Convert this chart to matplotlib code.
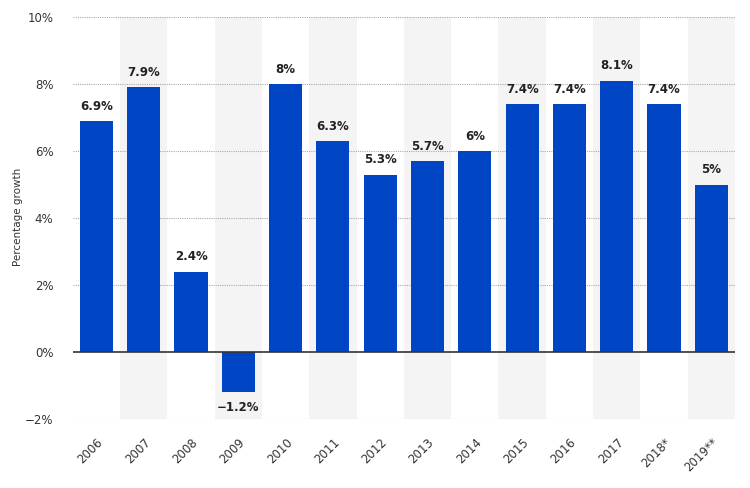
import numpy as np
import matplotlib.pyplot as plt

years = ["2006", "2007", "2008", "2009", "2010", "2011", "2012", "2013",
         "2014", "2015", "2016", "2017", "2018*", "2019**"]
growth = [6.9, 7.9, 2.4, -1.2, 8.0, 6.3, 5.3, 5.7, 6.0, 7.4, 7.4, 8.1, 7.4, 5.0]
labels = ["6.9%", "7.9%", "2.4%", "\u22121.2%", "8%", "6.3%", "5.3%", "5.7%",
          "6%", "7.4%", "7.4%", "8.1%", "7.4%", "5%"]

fig = plt.figure(figsize=(7.5, 4.88), dpi=100)
ax = fig.add_axes([0.097, 0.141, 0.883, 0.824])

x = np.arange(len(years))
ax.set_xlim(-0.5, len(years) - 0.5)
ax.set_ylim(-2, 10)

# alternating background bands
for i in x[1::2]:
    ax.axvspan(i - 0.5, i + 0.5, color="#f4f4f4", zorder=0, lw=0)

for yv in [-2, 2, 4, 6, 8, 10]:
    ax.axhline(yv, color="#aaaaaa", lw=0.8, ls=(0, (1, 1)), zorder=1)
ax.axhline(0, color="#333333", lw=1.2, zorder=3)

ax.bar(x, growth, width=0.7, color="#0046c4", zorder=2)

for xi, v, lab in zip(x, growth, labels):
    if v >= 0:
        ax.text(xi, v + 0.25, lab, ha="center", va="bottom", fontsize=8.5,
                fontweight="bold", color="#222222")
    else:
        ax.text(xi, v - 0.25, lab, ha="center", va="top", fontsize=8.5,
                fontweight="bold", color="#222222")

ax.set_yticks([-2, 0, 2, 4, 6, 8, 10])
ax.set_yticklabels(["\u22122%", "0%", "2%", "4%", "6%", "8%", "10%"])
ax.set_xticks(x)
ax.set_xticklabels(years, rotation=45, ha="right", rotation_mode="anchor")
ax.tick_params(axis="both", length=0, labelsize=8.5, colors="#333333")
ax.tick_params(axis="x", pad=12)
ax.tick_params(axis="y", pad=14)
for s in ax.spines.values():
    s.set_visible(False)

fig.text(0.024, 0.555, "Percentage growth", rotation=90, fontsize=7.5,
         color="#333333", ha="center", va="center")

fig.savefig("out.png", dpi=100)
